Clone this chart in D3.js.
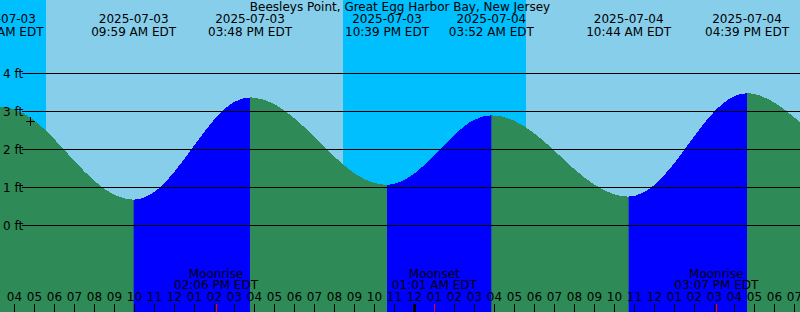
<!DOCTYPE html>
<html><head><meta charset="utf-8">
<script src="https://cdn.jsdelivr.net/npm/d3@7"></script>
<style>
html,body{margin:0;padding:0;background:#fff;}
svg{display:block;font-family:"DejaVu Sans",sans-serif;font-size:12px;}
</style></head><body>
<svg id="c" width="800" height="312"></svg>
<script>
const title = "Beesleys Point, Great Egg Harbor Bay, New Jersey";
const viewStart = "2025-07-03 03:18";
const viewEnd = "2025-07-04 19:18";

// tide curve (feet)
const curveTimes = [
  "2025-07-03 03:15","2025-07-03 03:21","2025-07-03 04:00","2025-07-03 05:00","2025-07-03 06:00",
  "2025-07-03 07:00","2025-07-03 08:00","2025-07-03 09:00","2025-07-03 09:59","2025-07-03 11:00",
  "2025-07-03 12:00","2025-07-03 13:00","2025-07-03 14:00","2025-07-03 15:00","2025-07-03 15:48",
  "2025-07-03 17:00","2025-07-03 18:00","2025-07-03 19:00","2025-07-03 20:00","2025-07-03 21:00",
  "2025-07-03 22:00","2025-07-03 22:39","2025-07-04 00:00","2025-07-04 01:00","2025-07-04 02:00",
  "2025-07-04 03:00","2025-07-04 03:52","2025-07-04 05:00","2025-07-04 06:00","2025-07-04 07:00",
  "2025-07-04 08:00","2025-07-04 09:00","2025-07-04 10:00","2025-07-04 10:44","2025-07-04 12:00",
  "2025-07-04 13:00","2025-07-04 14:00","2025-07-04 15:00","2025-07-04 16:00","2025-07-04 16:39",
  "2025-07-04 17:00","2025-07-04 18:00","2025-07-04 19:00","2025-07-04 19:20"
];
const curveHeights = [
  3.11, 3.12, 3.06, 2.77, 2.28,
  1.71, 1.18, 0.81, 0.68, 0.88,
  1.40, 2.10, 2.78, 3.25, 3.37,
  3.20, 2.83, 2.34, 1.82, 1.38,
  1.12, 1.07, 1.36, 1.84, 2.38,
  2.78, 2.90, 2.76, 2.43, 1.98,
  1.49, 1.08, 0.82, 0.76, 1.06,
  1.63, 2.34, 2.99, 3.40, 3.48,
  3.46, 3.24, 2.85, 2.70
];

const extremeTimes = ["2025-07-03 03:21","2025-07-03 09:59","2025-07-03 15:48","2025-07-03 22:39",
                      "2025-07-04 03:52","2025-07-04 10:44","2025-07-04 16:39"];
const extremeTypes = ["high","low","high","low","high","low","high"];

const sunTimes = ["2025-07-03 05:36","2025-07-03 20:27","2025-07-04 05:36"];
const sunTypes = ["sunrise","sunset","sunrise"];

const moonTimes = ["2025-07-03 14:06","2025-07-04 01:01","2025-07-04 15:07"];
const moonTypes = ["Moonrise","Moonset","Moonrise"];

const heightTicks = [0,1,2,3,4];
const nowTime = "2025-07-03 04:48";
const nowHeight = 2.74;

const colors = {night:"#00BFFF", day:"#87CEEB", ebb:"#2E8B57", flood:"#0000FF"};

const parse = d3.timeParse("%Y-%m-%d %H:%M");
const W = 800, H = 312;
const svg = d3.select("#c");

const x = d3.scaleTime().domain([parse(viewStart), parse(viewEnd)]).range([0, W]);
const y = d3.scaleLinear().domain([0, 4]).range([225.5, 73.5]);

const curve = curveTimes.map((t, i) => ({t: parse(t), h: curveHeights[i]}));
const extremes = extremeTimes.map((t, i) => ({t: parse(t), type: extremeTypes[i]}));

// day / night background
const edges = [parse(viewStart), ...sunTimes.map(parse), parse(viewEnd)];
const bands = [];
for (let i = 0; i < edges.length - 1; i++) {
  const night = i === 0 ? sunTypes[0] === "sunrise" : sunTypes[i - 1] === "sunset";
  bands.push({a: edges[i], b: edges[i + 1], night});
}
svg.append("g").selectAll("rect").data(bands).join("rect")
  .attr("x", d => x(d.a)).attr("y", 0)
  .attr("width", d => x(d.b) - x(d.a)).attr("height", H)
  .attr("fill", d => d.night ? colors.night : colors.day)
  .attr("shape-rendering", "crispEdges");

// flood intervals (low -> next high)
const floods = [];
extremes.forEach((e, i) => {
  if (e.type === "low" && i + 1 < extremes.length) floods.push({a: e.t, b: extremes[i + 1].t});
});
const defs = svg.append("defs");
defs.append("clipPath").attr("id", "flood").selectAll("rect").data(floods).join("rect")
  .attr("x", d => x(d.a)).attr("y", 0)
  .attr("width", d => x(d.b) - x(d.a)).attr("height", H);

const area = d3.area().x(d => x(d.t)).y0(H).y1(d => y(d.h)).curve(d3.curveMonotoneX);
svg.append("path").datum(curve).attr("d", area).attr("fill", colors.ebb)
  .attr("shape-rendering", "crispEdges");
svg.append("path").datum(curve).attr("d", area).attr("fill", colors.flood)
  .attr("clip-path", "url(#flood)").attr("shape-rendering", "crispEdges");

// height grid lines and labels
const grid = svg.append("g");
grid.selectAll("line").data(heightTicks).join("line")
  .attr("x1", 22).attr("x2", W)
  .attr("y1", d => y(d)).attr("y2", d => y(d))
  .attr("stroke", "#000").attr("stroke-width", 1).attr("shape-rendering", "crispEdges");
grid.selectAll("text").data(heightTicks).join("text")
  .attr("x", 3).attr("y", d => y(d) + 4)
  .text(d => d + " ft");

// title
svg.append("text").attr("x", W / 2).attr("y", 11).attr("text-anchor", "middle").text(title);

// extreme labels at top
const fDate = d3.timeFormat("%Y-%m-%d");
const fTime = d3.timeFormat("%I:%M %p EDT");
const topG = svg.append("g").attr("text-anchor", "middle");
extremes.forEach(e => {
  topG.append("text").attr("x", x(e.t)).attr("y", 23).text(fDate(e.t));
  topG.append("text").attr("x", x(e.t)).attr("y", 36).text(fTime(e.t));
});

// moon labels
const moon = moonTimes.map((t, i) => ({t: parse(t), type: moonTypes[i]}));
const mg = svg.append("g").attr("text-anchor", "middle");
moon.forEach(m => {
  mg.append("text").attr("x", x(m.t)).attr("y", 278).text(m.type);
  mg.append("text").attr("x", x(m.t)).attr("y", 289).text(fTime(m.t));
});

// hour axis
const ax = svg.append("g").attr("transform", `translate(0,${H})`)
  .call(d3.axisTop(x).ticks(d3.timeHour.every(1)).tickFormat(d3.timeFormat("%I")).tickSize(8).tickPadding(3));
ax.select(".domain").remove();
ax.attr("font-family", "DejaVu Sans, sans-serif").attr("font-size", 12);
ax.selectAll(".tick text").attr("fill", "#000");
ax.selectAll(".tick line").attr("stroke", "#000").attr("shape-rendering", "crispEdges")
  .attr("stroke-width", d => d.getHours() === 0 ? 3 : 1);

// moon event ticks
svg.append("g").selectAll("line").data(moon).join("line")
  .attr("x1", d => Math.round(x(d.t)) + 0.5).attr("x2", d => Math.round(x(d.t)) + 0.5)
  .attr("y1", H - 8).attr("y2", H)
  .attr("stroke", "#ff0000").attr("stroke-width", 1).attr("shape-rendering", "crispEdges");

// current time marker
const nx = x(parse(nowTime)), ny = y(nowHeight);
svg.append("path")
  .attr("d", `M${nx - 4.5},${ny}H${nx + 4.5}M${nx},${ny - 4.5}V${ny + 4.5}`)
  .attr("stroke", "#000").attr("stroke-width", 1).attr("fill", "none").attr("shape-rendering", "crispEdges");
</script>
</body></html>
